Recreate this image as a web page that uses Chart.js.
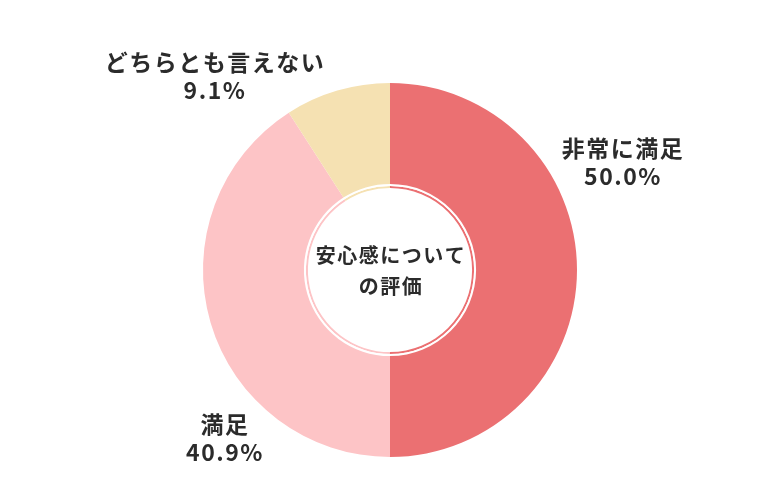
<!DOCTYPE html>
<html>
<head>
<meta charset="utf-8">
<script src="https://cdn.jsdelivr.net/npm/chart.js@4"></script>
<style>
  html, body { margin: 0; padding: 0; background: #fff; }
  #wrap { width: 780px; height: 500px; }
</style>
</head>
<body>
<div id="wrap"><canvas id="myChart"></canvas></div>
<script>
const labels = ['非常に満足', '満足', 'どちらとも言えない'];
const values = [50.0, 40.9, 9.1];
const colors = ['#EB7072', '#FDC4C6', '#F5E1B2'];
const centerText = ['安心感について', 'の評価'];

// where each label sits, relative to the doughnut centre
const labelOffsets = [[232, -108], [-166, 168], [-176, -194]];

const FONT = '"Noto Sans CJK JP", "Noto Sans", sans-serif';

const sliceLabels = {
    id: 'sliceLabels',
    afterDraw(chart) {
        const ctx = chart.ctx;
        const arcs = chart.getDatasetMeta(0).data;
        ctx.save();
        ctx.fillStyle = '#2b2b2b';
        ctx.textAlign = 'center';
        ctx.textBaseline = 'middle';
        ctx.font = 'bold 23px ' + FONT;
        ctx.letterSpacing = '1.5px';
        arcs.forEach((arc, i) => {
            const x = arc.x + labelOffsets[i][0];
            const y = arc.y + labelOffsets[i][1];
            ctx.fillText(labels[i], x + 1, y - 14);
            ctx.fillText(values[i].toFixed(1) + '%', x + 1, y + 14);
        });
        const c = arcs[0];
        ctx.font = 'bold 20px ' + FONT;
        ctx.letterSpacing = '1.5px';
        ctx.fillText(centerText[0], c.x + 1, c.y - 15);
        ctx.fillText(centerText[1], c.x + 1, c.y + 16);
        ctx.restore();
    }
};

const myChart = new Chart(document.getElementById('myChart'), {
    type: 'doughnut',
    data: {
        labels: labels,
        datasets: [{
            data: values,
            backgroundColor: colors,
            borderWidth: 0,
            weight: 101,
        }, {
            // white gap
            data: values,
            backgroundColor: ['#fff', '#fff', '#fff'],
            borderWidth: 0,
            weight: 2,
        }, {
            // thin inner ring
            data: values,
            backgroundColor: colors,
            borderWidth: 0,
            weight: 2,
        }]
    },
    options: {
        responsive: true,
        maintainAspectRatio: false,
        animation: false,
        cutout: '43.9%',
        layout: { padding: { top: 83, bottom: 43 } },
        plugins: {
            legend: { display: false },
            tooltip: { enabled: false }
        }
    },
    plugins: [sliceLabels]
});
</script>
</body>
</html>
